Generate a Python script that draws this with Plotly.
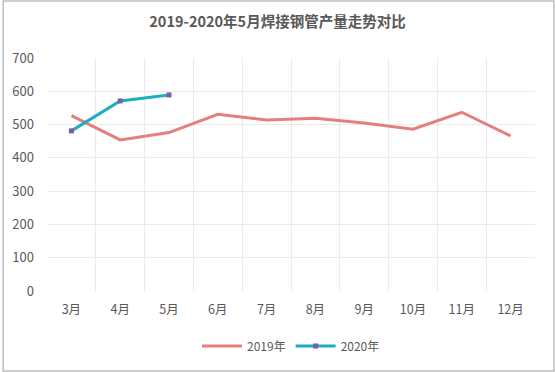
import plotly.graph_objects as go

months = ["3月", "4月", "5月", "6月", "7月", "8月", "9月", "10月", "11月", "12月"]
y2019 = [527, 454, 476, 531, 514, 519, 505, 486, 537, 466]
y2020 = [481, 571, 589]
y_ticks = [0, 100, 200, 300, 400, 500, 600, 700]

W, H = 555, 372
L, R, T, B = 45, 20, 58, 81
pw, ph = W - L - R, H - T - B

fig = go.Figure()
fig.add_trace(go.Scatter(x=months, y=y2019, name="2019年", mode="lines",
                         line=dict(color="#E57F7F", width=3)))
fig.add_trace(go.Scatter(x=months[:len(y2020)], y=y2020, name="2020年", mode="lines+markers",
                         line=dict(color="#1BAEC0", width=3),
                         marker=dict(color="#7A5DA8", size=5, symbol="square")))

fig.update_layout(
    width=W, height=H,
    margin=dict(l=L, r=R, t=T, b=B),
    paper_bgcolor="white", plot_bgcolor="white",
    font=dict(family="Noto Sans CJK SC, Noto Sans, sans-serif", color="#595959", size=12),
    title=dict(text="<b>2019-2020年5月焊接钢管产量走势对比</b>", x=0.5, xanchor="center",
               y=1 - 22 / H, yanchor="middle",
               font=dict(size=14.5, color="#595959")),
    showlegend=True,
    legend=dict(orientation="h", x=0.5, xanchor="center", y=(0 - 55) / ph, yanchor="middle",
                font=dict(size=12, color="#595959"), itemwidth=40, tracegroupgap=0),
    xaxis=dict(type="category", tickson="boundaries", showgrid=True, gridcolor="#EBEBEB",
               ticks="", showline=False, zeroline=False, range=[-0.5, 9.5],
               ticklabelstandoff=9,
               tickfont=dict(size=12.5, color="#595959")),
    yaxis=dict(range=[0, 700], tickvals=y_ticks, showgrid=True, gridcolor="#EBEBEB",
               zeroline=False, showline=False, ticks="", ticklabelstandoff=12,
               tickfont=dict(size=13, color="#595959")),
)

fig.add_shape(type="rect", xref="paper", yref="paper",
              x0=(-L + 1) / pw, x1=1 + (R - 1) / pw,
              y0=(-B + 1) / ph, y1=1 + (T - 1) / ph,
              line=dict(color="#BFBFBF", width=1.5), layer="below")

fig.write_html("out.html", config={"displayModeBar": False},
               post_script="document.body.style.margin='0';document.body.style.overflow='hidden';")
